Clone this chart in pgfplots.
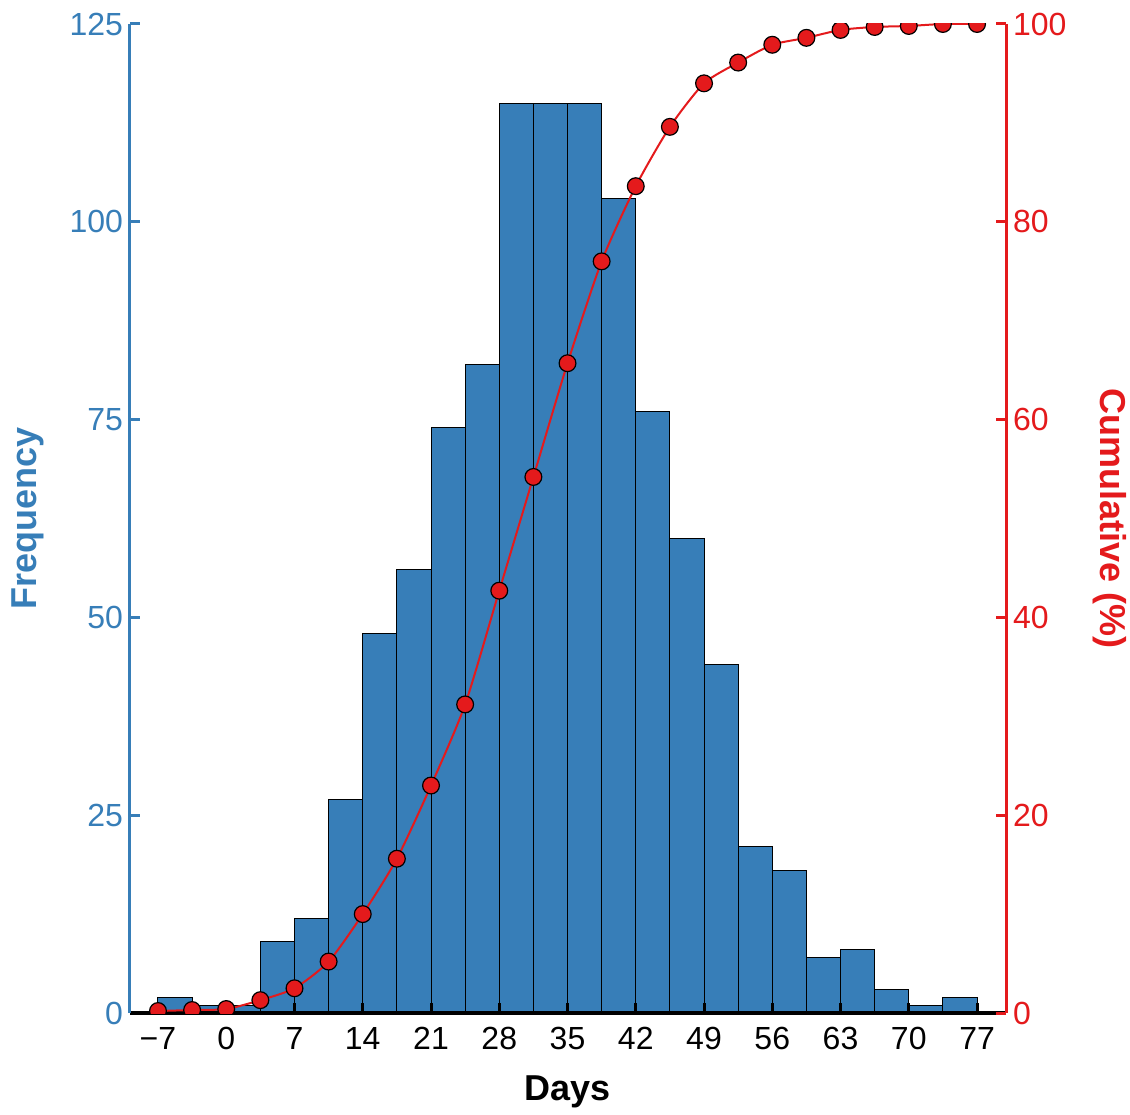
\documentclass[border=0pt]{standalone}
\usepackage{pgfplots}
\pgfplotsset{compat=1.18}
\usepackage{fontspec}
\setmainfont{Liberation Sans}
\definecolor{cblue}{HTML}{377EB8}
\definecolor{cred}{HTML}{E41A1C}

\begin{document}
\begin{tikzpicture}
\pgfplotsset{
  common/.style={
    scale only axis, width=438pt, height=494.5pt,
    xmin=-9.87, xmax=79.97,
    /pgf/number format/assume math mode=true,
    tick label style={font=\fontsize{16}{19}\selectfont},
    label style={font=\fontsize{18}{21}\selectfont\bfseries},
    major tick length=5pt,
  }
}
\begin{axis}[common,
  axis x line*=bottom, axis y line*=left,
  ymin=0, ymax=125, ytick={0,25,...,125},
  xtick={-7,0,...,77},
  xticklabels={−7,0,7,14,21,28,35,42,49,56,63,70,77},
  tick align=inside,
  x axis line style={black, line width=2pt},
  y axis line style={cblue, line width=1.5pt},
  ytick style={cblue, line width=1.5pt},
  xtick style={black, line width=1.5pt},
  yticklabel style={text=cblue},
  xticklabel style={text=black, yshift=-3.5pt},
  xlabel={Days}, ylabel={Frequency},
  ylabel style={text=cblue, at={(axis description cs:-0.117,0.5)}, anchor=center},
  xlabel style={at={(axis description cs:0.5,-0.08)}, anchor=center},
  axis on top,
]
\addplot[ybar, bar width=3.5, bar shift=0pt, fill=cblue, draw=black, line width=0.5pt] coordinates {
(-5.25,2) (-1.75,1) (1.75,1) (5.25,9) (8.75,12) (12.25,27) (15.75,48) (19.25,56)
(22.75,74) (26.25,82) (29.75,115) (33.25,115) (36.75,115) (40.25,103) (43.75,76)
(47.25,60) (50.75,44) (54.25,21) (57.75,18) (61.25,7) (64.75,8) (68.25,3) (71.75,1) (75.25,2)
};
\end{axis}
\begin{axis}[common,
  axis x line=none, axis y line*=right,
  ymin=0, ymax=100, ytick={0,20,...,100},
  tick align=inside,
  clip marker paths=true,
  y axis line style={cred, line width=1.5pt},
  ytick style={cred, line width=1.5pt},
  yticklabel style={text=cred},
  ylabel={Cumulative (\%)},
  ylabel style={text=cred, at={(axis description cs:1.118,0.5)}, anchor=center, rotate=180},
]
\addplot[cred, line width=1pt, smooth, tension=0.4, mark=*, mark size=4.2pt,
  mark options={fill=cred, draw=black, line width=0.6pt, solid}] coordinates {
(-7,0.2) (-3.5,0.3) (0,0.4) (3.5,1.3) (7,2.5) (10.5,5.2) (14,10.0) (17.5,15.6)
(21,23.0) (24.5,31.2) (28,42.7) (31.5,54.2) (35,65.7) (38.5,76.0) (42,83.6)
(45.5,89.6) (49,94.0) (52.5,96.1) (56,97.9) (59.5,98.6) (63,99.4) (66.5,99.7)
(70,99.8) (73.5,100) (77,100)
};
\end{axis}
\pgfresetboundingbox
\path[use as bounding box] (-65pt,-50.5pt) rectangle (500pt,506.5pt);
\end{tikzpicture}
\end{document}
